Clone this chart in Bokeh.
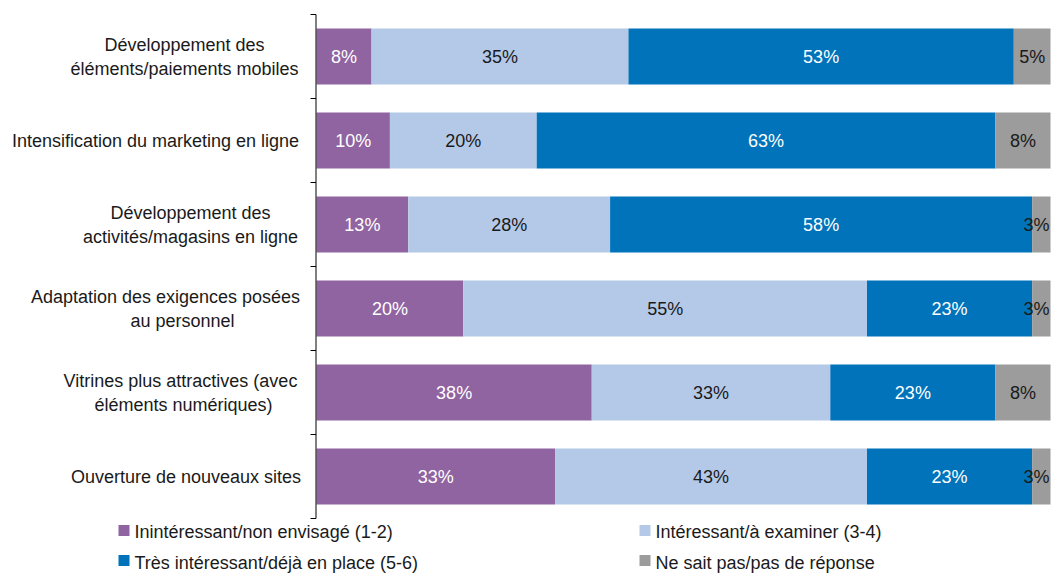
from bokeh.plotting import figure
from bokeh.models import Range1d, ColumnDataSource
from bokeh.core.properties import value
from bokeh.embed import file_html
from bokeh.resources import INLINE

# ---------------- data ----------------
categories = [
    "Développement des\néléments/paiements mobiles",
    "Intensification du marketing en ligne",
    "Développement des\nactivités/magasins en ligne",
    "Adaptation des exigences posées\nau personnel",
    "Vitrines plus attractives (avec\néléments numériques)",
    "Ouverture de nouveaux sites",
]
series_names = [
    "Inintéressant/non envisagé (1-2)",
    "Intéressant/à examiner (3-4)",
    "Très intéressant/déjà en place (5-6)",
    "Ne sait pas/pas de réponse",
]
s_pas_interessant = [7.5, 10.0, 12.5, 20.0, 37.5, 32.5]
s_interessant = [35.0, 20.0, 27.5, 55.0, 32.5, 42.5]
s_tres_interessant = [52.5, 62.5, 57.5, 22.5, 22.5, 22.5]
s_ne_sait_pas = [5.0, 7.5, 2.5, 2.5, 7.5, 2.5]

# ---------------- styles / layout ----------------
colors = ["#9063A1", "#B4C9E8", "#0073BB", "#9C9C9C"]
label_colors = ["white", "#1a1a1a", "white", "#1a1a1a"]
FONT = value("Liberation Sans")
FS = value("18px")
TXT = "#1a1a1a"

W, H = 1051, 574
BAR_LEFT_PX, BAR_RIGHT_PX = 316, 1050
TOP_PX, BAND_PX = 14, 84
sx = (BAR_RIGHT_PX - BAR_LEFT_PX) / 100.0   # px per percent

def px_to_x(px):
    return (px - BAR_LEFT_PX) / sx

def py_to_y(py):
    return (py - TOP_PX) / BAND_PX

n = len(categories)
p = figure(width=W, height=H, output_backend="svg", toolbar_location=None,
           x_range=Range1d(px_to_x(0), px_to_x(W)),
           y_range=Range1d(py_to_y(H), py_to_y(0)),
           min_border=0, min_border_left=0, min_border_right=0,
           min_border_top=0, min_border_bottom=0)
p.outline_line_color = None
p.grid.visible = False
p.axis.visible = False
p.background_fill_color = "white"
p.border_fill_color = "white"

ypos = [i + 0.5 for i in range(n)]
all_series = [s_pas_interessant, s_interessant, s_tres_interessant, s_ne_sait_pas]
LABEL_HALF_PX = 13      # approx half width of a two-character label
EDGE_PX = 1049
left = [0.0] * n
for k, vals in enumerate(all_series):
    right = [l + v for l, v in zip(left, vals)]
    mid = [(l + r) / 2 for l, r in zip(left, right)]
    # keep labels inside the picture: shift those that would spill over the edge
    lab_x = [min(m, px_to_x(EDGE_PX - LABEL_HALF_PX)) for m in mid]
    labels = [f"{int(v + 0.5)}%" for v in vals]
    src = ColumnDataSource(dict(y=ypos, left=left, right=right, lx=lab_x, lab=labels))
    p.hbar(y="y", left="left", right="right", height=0.667, source=src,
           fill_color=colors[k], line_color=None)
    p.text(x="lx", y="y", text="lab", source=src, text_align="center",
           text_baseline="middle", text_color=label_colors[k],
           text_font=FONT, text_font_size=FS)
    left = right

# y axis line and ticks (at band boundaries)
bounds = list(range(n + 1))
p.segment(x0=[px_to_x(315.5)], y0=[0], x1=[px_to_x(315.5)], y1=[n], line_color="black", line_width=1)
p.segment(x0=[px_to_x(BAR_LEFT_PX - 6)] * len(bounds), y0=bounds,
          x1=[px_to_x(315.5)] * len(bounds), y1=bounds, line_color="black", line_width=1)

# category labels: centre of each text line, in pixels
line_centres_px = [[184, 184], [155], [190, 190], [165, 182], [180, 183], [185.5]]
LINE_GAP_PX = 24
for cat, centres, y in zip(categories, line_centres_px, ypos):
    lines = cat.split("\n")
    nl = len(lines)
    for j, (ln, c) in enumerate(zip(lines, centres)):
        dy = (j - (nl - 1) / 2) * LINE_GAP_PX / BAND_PX
        p.text(x=[px_to_x(c)], y=[y + dy], text=[ln], text_align="center",
               text_baseline="middle", text_color=TXT, text_font=FONT, text_font_size=FS)

# legend (two columns, two rows)
leg_order = [0, 1, 2, 3]
leg_sq_left_px = [118, 639, 118, 639]
leg_sq_py = [530, 530, 560, 560]
leg_txt_py = [531.5, 531.5, 562, 562]
for i, cpx, spy, tpy in zip(leg_order, leg_sq_left_px, leg_sq_py, leg_txt_py):
    p.scatter(x=[px_to_x(cpx + 5.5)], y=[py_to_y(spy)], marker="square", size=11,
              fill_color=colors[i], line_color=None)
    p.text(x=[px_to_x(cpx + 16)], y=[py_to_y(tpy)], text=[series_names[i]],
           text_align="left", text_baseline="middle", text_color=TXT,
           text_font=FONT, text_font_size=FS)

open("out.html", "w").write(file_html(p, INLINE))
